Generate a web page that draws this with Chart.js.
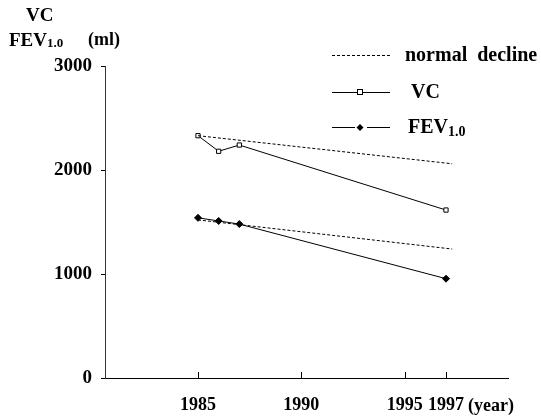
<!DOCTYPE html>
<html>
<head>
<meta charset="utf-8">
<script src="https://cdn.jsdelivr.net/npm/chart.js@4"></script>
<style>
  body { margin: 0; background: #fff; }
  #wrap { width: 541px; height: 418px; }
</style>
</head>
<body>
<div id="wrap"><canvas id="myChart" width="541" height="418"></canvas></div>
<script>
var years = [1985, 1986, 1987, 1997];
var vcValues = [2330, 2180, 2240, 1615];
var fevValues = [1540, 1510, 1480, 955];
// normal decline reference lines
var declineYears = [1985, 1997.3];
var vcDecline = [2330, 2060];
var fevDecline = [1520, 1240];
// axis ticks
var xTicks = [1985, 1990, 1995, 1997];
var yTicks = [0, 1000, 2000, 3000];

var serif = '"Liberation Serif", "DejaVu Serif", "Noto Sans CJK JP", serif';

function pairs(xs, ys) {
    var out = [];
    for (var i = 0; i < xs.length; i++) {
        out.push({x: xs[i], y: ys[i]});
    }
    return out;
}

// extra text, tick marks and the legend
var decorations = {
    id: 'decorations',
    afterDraw: function(chart) {
        var ctx = chart.ctx;
        var xs = chart.scales.x;
        var ys = chart.scales.y;
        ctx.save();
        ctx.strokeStyle = '#000';
        ctx.lineWidth = 1;

        // tick marks
        yTicks.forEach(function(v) {
            var py = Math.round(ys.getPixelForValue(v)) + 0.5;
            ctx.beginPath();
            ctx.moveTo(xs.left - 4, py);
            ctx.lineTo(xs.left, py);
            ctx.stroke();
        });
        xTicks.forEach(function(v) {
            var px = Math.round(xs.getPixelForValue(v)) + 0.5;
            ctx.beginPath();
            ctx.moveTo(px, ys.bottom);
            ctx.lineTo(px, ys.bottom - 6);
            ctx.stroke();
        });

        // axis titles
        ctx.fillStyle = '#000';
        ctx.textBaseline = 'middle';
        ctx.textAlign = 'left';
        ctx.font = 'bold 19px ' + serif;
        ctx.fillText('VC', 26, 16);
        ctx.fillText('FEV', 9, 41);
        var w = ctx.measureText('FEV').width;
        ctx.font = 'bold 13px ' + serif;
        ctx.fillText('1.0', 9 + w, 44);
        ctx.font = 'bold 18px ' + serif;
        ctx.fillText('(ml)', 88, 40);
        ctx.fillText('(year)', 468, 406);

        // legend
        ctx.font = 'bold 20px ' + serif;
        ctx.setLineDash([3, 2]);
        ctx.beginPath();
        ctx.moveTo(332, 55.5);
        ctx.lineTo(390, 55.5);
        ctx.stroke();
        ctx.setLineDash([]);
        ctx.fillText('normal  decline', 405, 56);

        ctx.beginPath();
        ctx.moveTo(332, 92.5);
        ctx.lineTo(390, 92.5);
        ctx.stroke();
        ctx.fillStyle = '#fff';
        ctx.fillRect(357, 89, 6, 6);
        ctx.strokeRect(357.5, 89.5, 5, 5);
        ctx.fillStyle = '#000';
        ctx.fillText('VC', 411, 93);

        ctx.beginPath();
        ctx.moveTo(332, 127.5);
        ctx.lineTo(355, 127.5);
        ctx.moveTo(367, 127.5);
        ctx.lineTo(390, 127.5);
        ctx.stroke();
        ctx.beginPath();
        ctx.moveTo(360, 124);
        ctx.lineTo(363.5, 127.5);
        ctx.lineTo(360, 131);
        ctx.lineTo(356.5, 127.5);
        ctx.closePath();
        ctx.fill();
        ctx.fillText('FEV', 408, 128);
        w = ctx.measureText('FEV').width;
        ctx.font = 'bold 14px ' + serif;
        ctx.fillText('1.0', 408 + w, 132);
        ctx.restore();
    }
};

var myChart = new Chart('myChart', {
    type: 'line',
    data: {
        datasets: [{
            label: 'normal decline VC',
            data: pairs(declineYears, vcDecline),
            borderColor: '#000',
            borderWidth: 1,
            borderDash: [3, 2],
            pointRadius: 0
        }, {
            label: 'normal decline FEV',
            data: pairs(declineYears, fevDecline),
            borderColor: '#000',
            borderWidth: 1,
            borderDash: [3, 2],
            pointRadius: 0
        }, {
            label: 'VC',
            data: pairs(years, vcValues),
            borderColor: '#000',
            borderWidth: 1,
            pointStyle: 'rect',
            pointRadius: 3,
            pointBackgroundColor: '#fff',
            pointBorderColor: '#000',
            pointBorderWidth: 1
        }, {
            label: 'FEV1.0',
            data: pairs(years, fevValues),
            borderColor: '#000',
            borderWidth: 1,
            pointStyle: 'rectRot',
            pointRadius: 3.5,
            pointBackgroundColor: '#000',
            pointBorderColor: '#000'
        }]
    },
    options: {
        responsive: false,
        animation: false,
        layout: { padding: { top: 66, right: 33, left: 0, bottom: 0 } },
        plugins: {
            legend: { display: false },
            tooltip: { enabled: false }
        },
        scales: {
            x: {
                type: 'linear',
                min: 1980.5,
                max: 2000,
                afterBuildTicks: function(scale) {
                    scale.ticks = xTicks.map(function(v) { return {value: v}; });
                },
                afterFit: function(scale) { scale.height = 40; },
                grid: { display: false, drawTicks: false },
                border: { display: true, color: '#000', width: 1 },
                ticks: {
                    padding: 17,
                    color: '#000',
                    font: { family: serif, size: 18, weight: 'bold' },
                    callback: function(v) { return String(v); }
                }
            },
            y: {
                min: 0,
                max: 3000,
                afterBuildTicks: function(scale) {
                    scale.ticks = yTicks.map(function(v) { return {value: v}; });
                },
                afterFit: function(scale) { scale.width = 105; },
                grid: { display: false, drawTicks: false },
                border: { display: true, color: '#333', width: 1 },
                ticks: {
                    padding: 13,
                    color: '#000',
                    font: { family: serif, size: 19, weight: 'bold' },
                    callback: function(v) { return String(v); }
                }
            }
        }
    },
    plugins: [decorations]
});
</script>
</body>
</html>
